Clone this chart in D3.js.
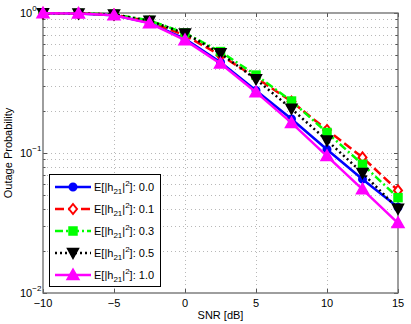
<!DOCTYPE html>
<html>
<head>
<meta charset="utf-8">
<script src="https://cdn.jsdelivr.net/npm/d3@7"></script>
<style>
  body { margin: 0; background: #fff; }
  svg { display: block; font-family: 'Liberation Sans', Arial, sans-serif; }
</style>
</head>
<body>
<div id="chart"></div>
<script>
// SNR points
const snr = [-10, -7.5, -5, -2.5, 0, 2.5, 5, 7.5, 10, 12.5, 15];

// outage probability per E[|h21|^2]
const p00 = [0.995, 0.99, 0.965, 0.85, 0.655, 0.445, 0.28, 0.175, 0.106, 0.065, 0.041];
const p01 = [0.997, 0.993, 0.975, 0.87, 0.69, 0.50, 0.345, 0.233, 0.146, 0.093, 0.054];
const p03 = [0.997, 0.994, 0.978, 0.885, 0.72, 0.53, 0.36, 0.235, 0.14, 0.083, 0.048];
const p05 = [0.997, 0.993, 0.975, 0.88, 0.715, 0.515, 0.336, 0.207, 0.123, 0.072, 0.040];
const p10 = [0.995, 0.99, 0.965, 0.845, 0.64, 0.435, 0.272, 0.164, 0.095, 0.055, 0.0316];

const legendLabels = ['0.0', '0.1', '0.3', '0.5', '1.0'];
const xTicks = [-10, -5, 0, 5, 10, 15];
const yTicks = [1e-2, 1e-1, 1];

const series = [
  { vals: p00, color: '#0000ff', dash: null, marker: 'circle' },
  { vals: p01, color: '#ff0000', dash: '9,4', marker: 'diamond' },
  { vals: p03, color: '#00ff00', dash: '8,3,2,3', marker: 'square' },
  { vals: p05, color: '#000000', dash: '2,3', marker: 'tridown' },
  { vals: p10, color: '#ff00ff', dash: null, marker: 'triup' }
];

const W = 411, H = 324;
const m = { left: 43, right: 13, top: 13, bottom: 31 };

const svg = d3.select('#chart').append('svg')
  .attr('width', W).attr('height', H);

const x = d3.scaleLinear().domain([-10, 15]).range([m.left, W - m.right]);
const y = d3.scaleLog().domain([1e-2, 1]).range([H - m.bottom, m.top]);

const x0 = m.left, x1 = W - m.right, y0 = H - m.bottom, y1 = m.top;

// grid
const minor = [];
[0.01, 0.1].forEach(d => { for (let k = 2; k <= 9; k++) minor.push(d * k); });
const grid = svg.append('g').attr('stroke', '#b8b8b8').attr('stroke-width', 1)
  .attr('stroke-dasharray', '1,3');
grid.selectAll('line.gy').data(minor.concat([0.1])).enter().append('line')
  .attr('x1', x0).attr('x2', x1)
  .attr('y1', d => Math.round(y(d)) + 0.5).attr('y2', d => Math.round(y(d)) + 0.5);
grid.selectAll('line.gx').data([-5, 0, 5, 10]).enter().append('line')
  .attr('y1', y0).attr('y2', y1)
  .attr('x1', d => Math.round(x(d)) + 0.5).attr('x2', d => Math.round(x(d)) + 0.5);

// axes (ticks inward, mirrored)
const ax = svg.append('g').attr('stroke', '#555').attr('stroke-width', 1);
xTicks.forEach(t => {
  const px = Math.round(x(t)) + 0.5;
  ax.append('line').attr('x1', px).attr('x2', px).attr('y1', y0).attr('y2', y0 - 4);
  ax.append('line').attr('x1', px).attr('x2', px).attr('y1', y1).attr('y2', y1 + 4);
});
minor.concat(yTicks).forEach(t => {
  const py = Math.round(y(t)) + 0.5;
  const len = yTicks.includes(t) ? 4 : 2.5;
  ax.append('line').attr('x1', x0).attr('x2', x0 + len).attr('y1', py).attr('y2', py);
  ax.append('line').attr('x1', x1).attr('x2', x1 - len).attr('y1', py).attr('y2', py);
});
svg.append('rect').attr('x', x0).attr('y', y1).attr('width', x1 - x0).attr('height', y0 - y1)
  .attr('fill', 'none').attr('stroke', '#6a6a6a').attr('stroke-width', 1.3);

// tick labels
svg.append('g').selectAll('text').data(xTicks).enter().append('text')
  .attr('x', d => x(d)).attr('y', y0 + 14)
  .attr('text-anchor', 'middle').attr('font-size', 11)
  .text(d => d < 0 ? '\u2212' + Math.abs(d) : d);

const yl = svg.append('g').selectAll('text').data(yTicks).enter().append('text')
  .attr('x', 20).attr('y', d => y(d) + 4)
  .attr('text-anchor', 'start').attr('font-size', 11);
yl.append('tspan').text('10');
yl.append('tspan').attr('font-size', 8).attr('dy', -6)
  .text(d => d === 1 ? '0' : '\u2212' + Math.round(-Math.log10(d)));

svg.append('text').attr('x', (x0 + x1) / 2).attr('y', 319)
  .attr('text-anchor', 'middle').attr('font-size', 11).text('SNR [dB]');
svg.append('text').attr('transform', 'translate(12,' + ((y0 + y1) / 2) + ') rotate(-90)')
  .attr('text-anchor', 'middle').attr('font-size', 11).text('Outage Probability');

// markers
function drawMarker(g, type, cx, cy, color) {
  if (type === 'circle') {
    g.append('circle').attr('cx', cx).attr('cy', cy).attr('r', 3.5)
      .attr('fill', color).attr('stroke', color).attr('stroke-width', 2);
  } else if (type === 'diamond') {
    g.append('path').attr('d', `M${cx},${cy - 5}L${cx + 4},${cy}L${cx},${cy + 5}L${cx - 4},${cy}Z`)
      .attr('fill', '#fff').attr('stroke', color).attr('stroke-width', 2);
  } else if (type === 'square') {
    g.append('rect').attr('x', cx - 4).attr('y', cy - 4).attr('width', 8).attr('height', 8)
      .attr('fill', color).attr('stroke', color).attr('stroke-width', 1.5);
  } else if (type === 'tridown') {
    g.append('path').attr('d', `M${cx - 5.5},${cy - 4.5}L${cx + 5.5},${cy - 4.5}L${cx},${cy + 5.5}Z`)
      .attr('fill', color).attr('stroke', color).attr('stroke-width', 1.5);
  } else if (type === 'triup') {
    g.append('path').attr('d', `M${cx - 6},${cy + 4.5}L${cx + 6},${cy + 4.5}L${cx},${cy - 6}Z`)
      .attr('fill', color).attr('stroke', color).attr('stroke-width', 1.5);
  }
}

const line = d3.line().x((d, i) => x(snr[i])).y(d => y(d));
series.forEach(s => {
  const g = svg.append('g');
  g.append('path').datum(s.vals).attr('d', line)
    .attr('fill', 'none').attr('stroke', s.color).attr('stroke-width', 2.5)
    .attr('stroke-dasharray', s.dash);
  s.vals.forEach((v, i) => drawMarker(g, s.marker, x(snr[i]), y(v), s.color));
});

// legend
const lg = svg.append('g');
lg.append('rect').attr('x', 49.5).attr('y', 174.5).attr('width', 111).attr('height', 112)
  .attr('fill', '#fff').attr('stroke', '#000').attr('stroke-width', 1);
series.forEach((s, i) => {
  const ly = 187 + i * 22;
  lg.append('line').attr('x1', 55).attr('x2', 91).attr('y1', ly).attr('y2', ly)
    .attr('stroke', s.color).attr('stroke-width', 2.5).attr('stroke-dasharray', s.dash);
  drawMarker(lg, s.marker, 73, ly, s.color);
  const t = lg.append('text').attr('x', 94).attr('y', ly + 4).attr('font-size', 11);
  t.append('tspan').text('E[|h');
  t.append('tspan').attr('font-size', 8).attr('dy', 3).text('21');
  t.append('tspan').attr('dy', -3).text('|');
  t.append('tspan').attr('font-size', 8).attr('dy', -5).text('2');
  t.append('tspan').attr('dy', 5).text(']: ' + legendLabels[i]);
});
</script>
</body>
</html>
